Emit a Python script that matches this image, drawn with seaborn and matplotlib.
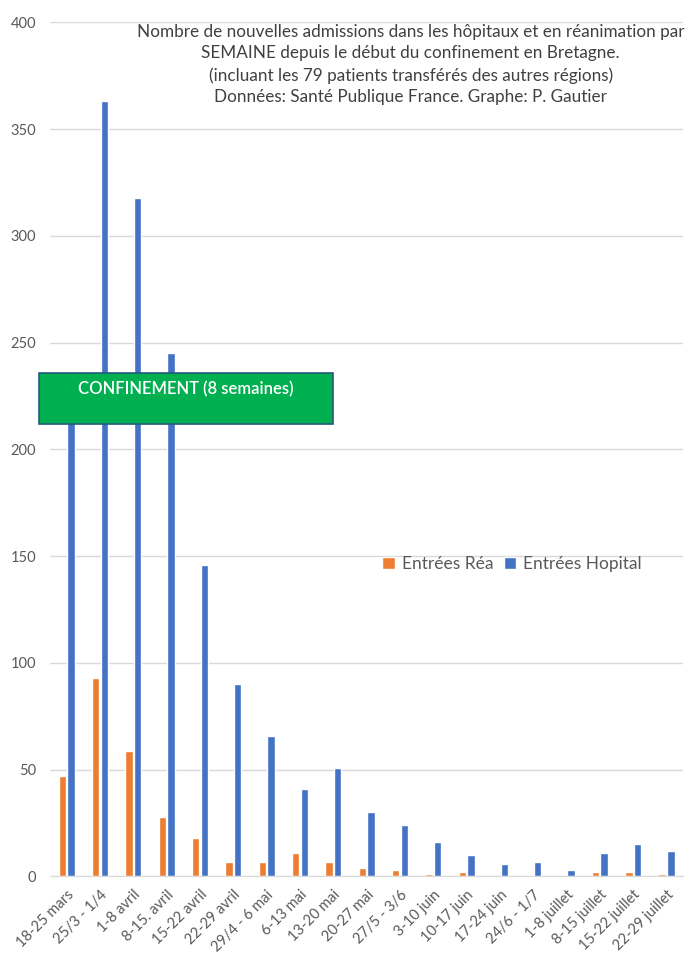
import pandas as pd
import numpy as np
import matplotlib
matplotlib.use('Agg')
import matplotlib.pyplot as plt
import seaborn as sns
from matplotlib.patches import Rectangle

# weekly data
semaines = ['18-25 mars', '25/3 - 1/4', '1-8 avril', '8-15. avril', '15-22 avril',
            '22-29 avril', '29/4 - 6 mai', '6-13 mai', '13-20 mai', '20-27 mai',
            '27/5 - 3/6', '3-10 juin', '10-17 juin', '17-24 juin', '24/6 - 1/7',
            '1-8 juillet', '8-15 juillet', '15-22 juillet', '22-29 juillet']
rea = [47, 93, 59, 28, 18, 7, 7, 11, 7, 4, 3, 1, 2, 0, 0, 0, 2, 2, 1]
hopital = [225, 363, 318, 245, 146, 90, 66, 41, 51, 30, 24, 16, 10, 6, 7, 3, 11, 15, 12]

df = pd.DataFrame({
    'semaine': semaines * 2,
    'valeur': rea + hopital,
    'serie': ['Entrées Réa'] * len(rea) + ['Entrées Hopital'] * len(hopital),
})

sns.set_style('white')
plt.rcParams['font.family'] = ['Lato', 'DejaVu Sans']

fig = plt.figure(figsize=(6.95, 9.6), dpi=100)
ax = fig.add_axes([0.072, 0.087, 0.911, 0.8896])

sns.barplot(data=df, x='semaine', y='valeur', hue='serie',
            palette={'Entrées Réa': '#ED7D31', 'Entrées Hopital': '#4472C4'},
            width=0.52, gap=0.14, saturation=1, ax=ax, legend=True)

ax.set_xlim(-0.5, len(semaines) - 0.5)
ax.set_ylim(0, 400)
ax.set_yticks(range(0, 401, 50))
ax.yaxis.grid(True, color='#D9D9D9', linewidth=1)
ax.set_axisbelow(True)
for s in ['top', 'right', 'left']:
    ax.spines[s].set_visible(False)
ax.spines['bottom'].set_color('#D9D9D9')
ax.tick_params(axis='both', length=0, colors='#595959', labelsize=10.5)
ax.tick_params(axis='y', pad=10)
ax.tick_params(axis='x', pad=8)
plt.setp(ax.get_xticklabels(), rotation=45, ha='right', rotation_mode='anchor')
ax.set_xlabel('')
ax.set_ylabel('')

ax.legend(title=None, frameon=False, ncol=2, loc='center',
          bbox_to_anchor=(0.737, 0.4125), bbox_transform=fig.transFigure,
          fontsize=12.5, handlelength=0.7, handleheight=0.7, handletextpad=0.4,
          columnspacing=0.65, labelcolor='#595959')

fig.text(0.591, 0.975,
         "Nombre de nouvelles admissions dans les hôpitaux et en réanimation par\n"
         "SEMAINE depuis le début du confinement en Bretagne.\n"
         "(incluant les 79 patients transférés des autres régions)\n"
         "Données: Santé Publique France. Graphe: P. Gautier",
         ha='center', va='top', fontsize=12.3, color='#404040', linespacing=1.42)

# green box for the lockdown period
box = Rectangle((39 / 695, 1 - 424 / 960), 294 / 695, 51 / 960,
                transform=fig.transFigure, facecolor='#00B050',
                edgecolor='#245A7A', linewidth=1.2, zorder=10)
fig.patches.append(box)
fig.text(186 / 695, 1 - 389 / 960, 'CONFINEMENT (8 semaines)', ha='center', va='center',
         color='white', fontsize=12, fontweight='semibold', zorder=11)

fig.savefig('out.png', dpi=100)
